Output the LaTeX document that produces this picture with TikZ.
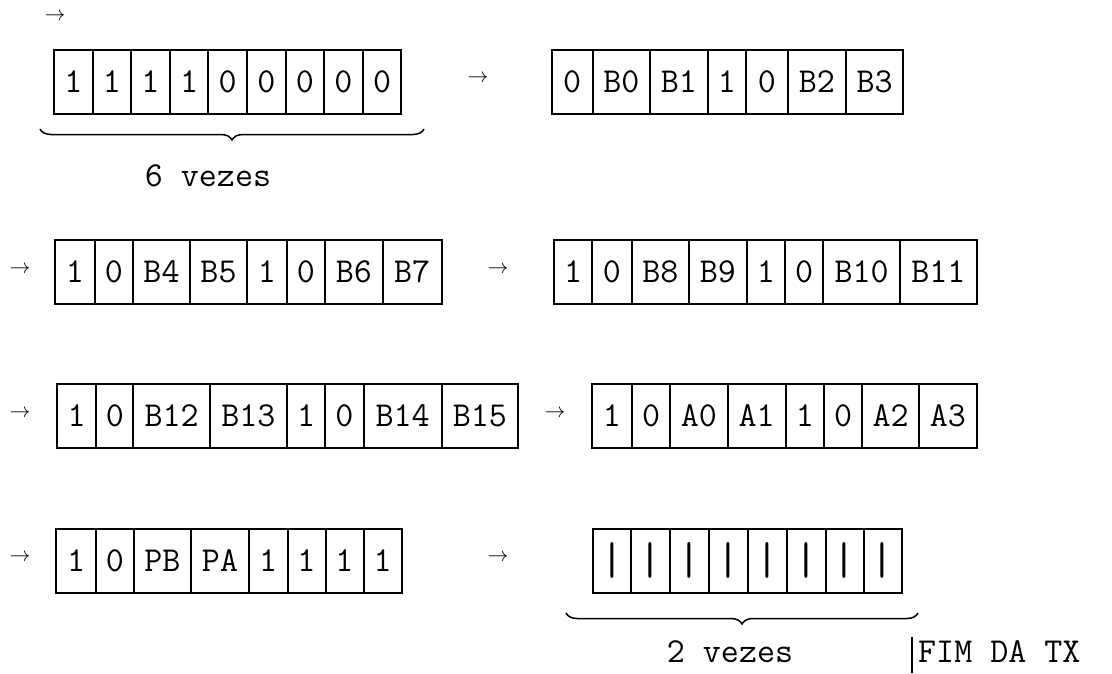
\documentclass[tikz,border=0pt]{standalone}
\usepackage{tikz}
\usetikzlibrary{positioning}
\usetikzlibrary{decorations.pathreplacing}

\newcommand{\bitfont}{\fontsize{35}{35}\selectfont\ttfamily}
\newcommand{\pipefont}{\fontsize{46}{46}\selectfont\ttfamily}
\newcommand{\arrfont}{\fontsize{22}{22}\selectfont}

\tikzset{
  cell/.style={draw, line width=2pt, inner sep=0pt, outer sep=0pt, minimum height=64pt, font=\bitfont},
  pipe_cell/.style={cell, font=\pipefont},
  arr_sym/.style={inner sep=0pt, font=\arrfont},
  note_text/.style={inner sep=0pt, font=\bitfont},
  brace_line/.style={decorate, decoration={brace, mirror, amplitude=11pt}, line width=1.5pt}
}

\begin{document}
\begin{tikzpicture}[x=1pt,y=-1pt]
    \useasboundingbox (0,0) rectangle (1112,673);

    % arrows
    \node[arr_sym] (arr_0) at (55,17) {$\rightarrow$};
    \node[arr_sym] (arr_1) at (478,79) {$\rightarrow$};
    \node[arr_sym] (arr_2) at (20,270) {$\rightarrow$};
    \node[arr_sym] (arr_3) at (498,270) {$\rightarrow$};
    \node[arr_sym] (arr_4) at (20,414) {$\rightarrow$};
    \node[arr_sym] (arr_5) at (555,414) {$\rightarrow$};
    \node[arr_sym] (arr_6) at (20,558) {$\rightarrow$};
    \node[arr_sym] (arr_7) at (498,558) {$\rightarrow$};

    % word 1 (sync)
    \node[cell, minimum width=38.6pt, anchor=west] (w1_1) at (54,81.5) {1};
    \node[cell, minimum width=38.6pt, right=0pt of w1_1] (w1_2) {1};
    \node[cell, minimum width=38.6pt, right=0pt of w1_2] (w1_3) {1};
    \node[cell, minimum width=38.6pt, right=0pt of w1_3] (w1_4) {1};
    \node[cell, minimum width=38.6pt, right=0pt of w1_4] (w1_5) {0};
    \node[cell, minimum width=38.6pt, right=0pt of w1_5] (w1_6) {0};
    \node[cell, minimum width=38.6pt, right=0pt of w1_6] (w1_7) {0};
    \node[cell, minimum width=38.6pt, right=0pt of w1_7] (w1_8) {0};
    \node[cell, minimum width=38.6pt, right=0pt of w1_8] (w1_9) {0};
    \draw[brace_line] (40,129) -- (424,129);
    \node[note_text] (times_6) at (208,176) {6 vezes};

    % word 2
    \node[cell, minimum width=41pt, anchor=west] (w2_1) at (551.7,81.5) {0};
    \node[cell, minimum width=57.3pt, right=0pt of w2_1] (w2_2) {B0};
    \node[cell, minimum width=57.7pt, right=0pt of w2_2] (w2_3) {B1};
    \node[cell, minimum width=38.3pt, right=0pt of w2_3] (w2_4) {1};
    \node[cell, minimum width=41.7pt, right=0pt of w2_4] (w2_5) {0};
    \node[cell, minimum width=58.3pt, right=0pt of w2_5] (w2_6) {B2};
    \node[cell, minimum width=57.3pt, right=0pt of w2_6] (w2_7) {B3};

    % word 3
    \node[cell, minimum width=40pt, anchor=west] (w3_1) at (55,272) {1};
    \node[cell, minimum width=38pt, right=0pt of w3_1] (w3_2) {0};
    \node[cell, minimum width=57pt, right=0pt of w3_2] (w3_3) {B4};
    \node[cell, minimum width=57pt, right=0pt of w3_3] (w3_4) {B5};
    \node[cell, minimum width=40pt, right=0pt of w3_4] (w3_5) {1};
    \node[cell, minimum width=38pt, right=0pt of w3_5] (w3_6) {0};
    \node[cell, minimum width=57.7pt, right=0pt of w3_6] (w3_7) {B6};
    \node[cell, minimum width=59pt, right=0pt of w3_7] (w3_8) {B7};

    % word 4
    \node[cell, minimum width=38.3pt, anchor=west] (w4_1) at (554,272) {1};
    \node[cell, minimum width=39.4pt, right=0pt of w4_1] (w4_2) {0};
    \node[cell, minimum width=57.3pt, right=0pt of w4_2] (w4_3) {B8};
    \node[cell, minimum width=57.7pt, right=0pt of w4_3] (w4_4) {B9};
    \node[cell, minimum width=38.3pt, right=0pt of w4_4] (w4_5) {1};
    \node[cell, minimum width=38.3pt, right=0pt of w4_5] (w4_6) {0};
    \node[cell, minimum width=76.7pt, right=0pt of w4_6] (w4_7) {B10};
    \node[cell, minimum width=76.7pt, right=0pt of w4_7] (w4_8) {B11};

    % word 5
    \node[cell, minimum width=39.4pt, anchor=west] (w5_1) at (57,416) {1};
    \node[cell, minimum width=36.8pt, right=0pt of w5_1] (w5_2) {0};
    \node[cell, minimum width=76.8pt, right=0pt of w5_2] (w5_3) {B12};
    \node[cell, minimum width=76.8pt, right=0pt of w5_3] (w5_4) {B13};
    \node[cell, minimum width=38.5pt, right=0pt of w5_4] (w5_5) {1};
    \node[cell, minimum width=38.2pt, right=0pt of w5_5] (w5_6) {0};
    \node[cell, minimum width=78.3pt, right=0pt of w5_6] (w5_7) {B14};
    \node[cell, minimum width=76.2pt, right=0pt of w5_7] (w5_8) {B15};

    % word 6
    \node[cell, minimum width=40.6pt, anchor=west] (w6_1) at (591.7,416) {1};
    \node[cell, minimum width=37.7pt, right=0pt of w6_1] (w6_2) {0};
    \node[cell, minimum width=57.7pt, right=0pt of w6_2] (w6_3) {A0};
    \node[cell, minimum width=58pt, right=0pt of w6_3] (w6_4) {A1};
    \node[cell, minimum width=38.3pt, right=0pt of w6_4] (w6_5) {1};
    \node[cell, minimum width=38.3pt, right=0pt of w6_5] (w6_6) {0};
    \node[cell, minimum width=56.7pt, right=0pt of w6_6] (w6_7) {A2};
    \node[cell, minimum width=57.7pt, right=0pt of w6_7] (w6_8) {A3};

    % word 7
    \node[cell, minimum width=39.3pt, anchor=west] (w7_1) at (56.4,560.5) {1};
    \node[cell, minimum width=38.2pt, right=0pt of w7_1] (w7_2) {0};
    \node[cell, minimum width=57.1pt, right=0pt of w7_2] (w7_3) {PB};
    \node[cell, minimum width=58pt, right=0pt of w7_3] (w7_4) {PA};
    \node[cell, minimum width=38.5pt, right=0pt of w7_4] (w7_5) {1};
    \node[cell, minimum width=38pt, right=0pt of w7_5] (w7_6) {1};
    \node[cell, minimum width=38pt, right=0pt of w7_6] (w7_7) {1};
    \node[cell, minimum width=38.5pt, right=0pt of w7_7] (w7_8) {1};

    % word 8 (idle)
    \node[pipe_cell, minimum width=38pt, anchor=west] (w8_1) at (593,560.5) {|};
    \node[pipe_cell, minimum width=39pt, right=0pt of w8_1] (w8_2) {|};
    \node[pipe_cell, minimum width=39pt, right=0pt of w8_2] (w8_3) {|};
    \node[pipe_cell, minimum width=39pt, right=0pt of w8_3] (w8_4) {|};
    \node[pipe_cell, minimum width=38.5pt, right=0pt of w8_4] (w8_5) {|};
    \node[pipe_cell, minimum width=39pt, right=0pt of w8_5] (w8_6) {|};
    \node[pipe_cell, minimum width=38.5pt, right=0pt of w8_6] (w8_7) {|};
    \node[pipe_cell, minimum width=37.5pt, right=0pt of w8_7] (w8_8) {|};
    \draw[brace_line] (566,613) -- (918,613);
    \node[note_text] (times_2) at (730,652) {2 vezes};

    \draw[line width=1.6pt] (912,637) -- (912,673);
    \node[note_text, anchor=west] (end_tx) at (918,652) {FIM DA TX};

\end{tikzpicture}
\end{document}
